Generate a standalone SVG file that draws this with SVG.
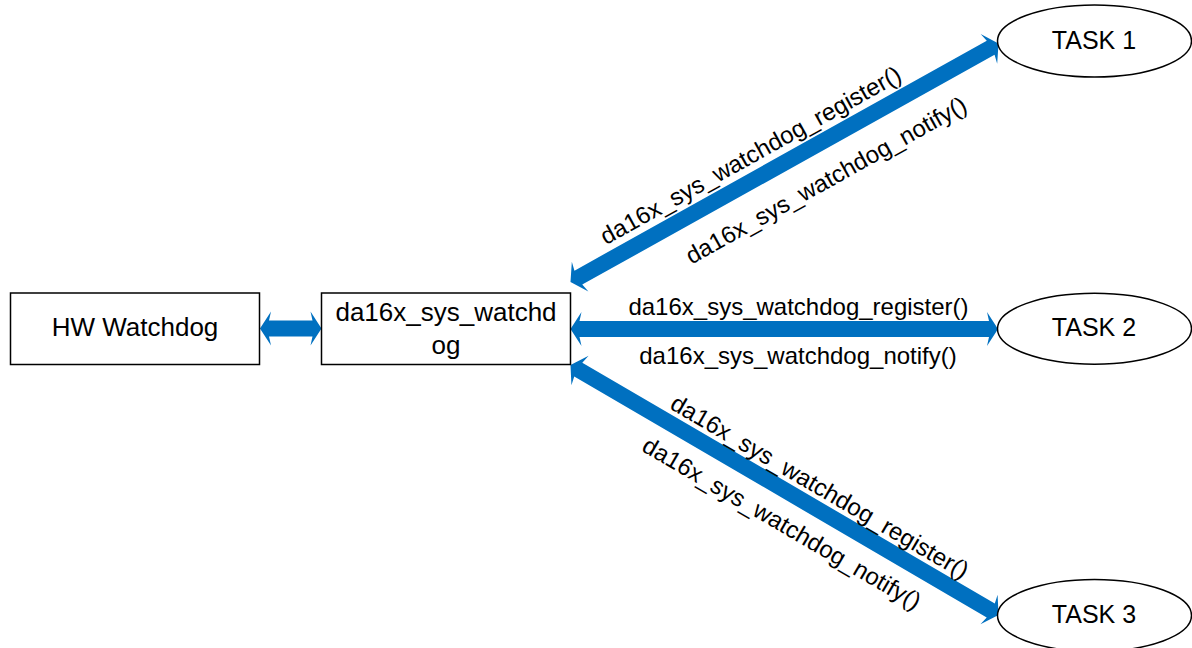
<svg xmlns="http://www.w3.org/2000/svg" width="1192" height="648" viewBox="0 0 1192 648">
<style>
.box{fill:#fff;stroke:#000;stroke-width:1.5}
.node{font-family:"Liberation Sans",Arial,sans-serif;font-size:26px;fill:#000;text-anchor:middle}
.task{font-family:"Liberation Sans",Arial,sans-serif;font-size:25px;fill:#000;text-anchor:middle}
.lbl{font-family:"Liberation Sans",Arial,sans-serif;font-size:24px;fill:#000;text-anchor:middle}
.lblc{font-family:"Liberation Sans",Arial,sans-serif;font-size:24px;fill:#000;text-anchor:middle;dominant-baseline:central}
.arr{fill:#0070C0}
</style>
<rect width="1192" height="648" fill="#fff"/>
<g id="connectors">
  <polygon class="arr" transform="translate(260,328.5)" points="0,0 11,-17 9,-8 52.5,-8 50.5,-17 61.5,0 50.5,17 52.5,8 9,8 11,17"/>
  <polygon class="arr" transform="translate(570.5,282) rotate(-29.13)" points="0,0 11,-17 9,-8 481,-8 479,-17 490,0 479,17 481,8 9,8 11,17"/>
  <polygon class="arr" transform="translate(570.5,329)" points="0,0 11,-17 9,-8 418.5,-8 416.5,-17 427.5,0 416.5,17 418.5,8 9,8 11,17"/>
  <polygon class="arr" transform="translate(570.5,365) rotate(30.29)" points="0,0 11,-17 9,-8 486.7,-8 484.7,-17 495.7,0 484.7,17 486.7,8 9,8 11,17"/>
  <text class="lblc" transform="translate(750.5,155) rotate(-29.13)">da16x_sys_watchdog_register()</text>
  <text class="lblc" transform="translate(826,180) rotate(-29.13)">da16x_sys_watchdog_notify()</text>
  <text class="lbl" x="798.5" y="314.5">da16x_sys_watchdog_register()</text>
  <text class="lbl" x="798" y="364">da16x_sys_watchdog_notify()</text>
  <text class="lblc" transform="translate(820,486.5) rotate(30.29)">da16x_sys_watchdog_register()</text>
  <text class="lblc" transform="translate(782,523) rotate(30.29)">da16x_sys_watchdog_notify()</text>
</g>
<g id="hw-watchdog">
  <rect class="box" x="10.5" y="293" width="249" height="71.5"/>
  <text class="node" x="135" y="336">HW Watchdog</text>
</g>
<g id="da16x-sys-watchdog">
  <rect class="box" x="321.5" y="293" width="249" height="71.5"/>
  <text class="node" x="446" y="320.5">da16x_sys_watchd</text>
  <text class="node" x="446" y="353.5">og</text>
</g>
<g id="task1">
  <ellipse class="box" cx="1094.5" cy="41" rx="97" ry="36"/>
  <text class="task" x="1094" y="48.5">TASK 1</text>
</g>
<g id="task2">
  <ellipse class="box" cx="1094.5" cy="328.7" rx="97" ry="35.5"/>
  <text class="task" x="1094" y="336">TASK 2</text>
</g>
<g id="task3">
  <ellipse class="box" cx="1094.5" cy="615.5" rx="97" ry="36"/>
  <text class="task" x="1094" y="623">TASK 3</text>
</g>
</svg>
